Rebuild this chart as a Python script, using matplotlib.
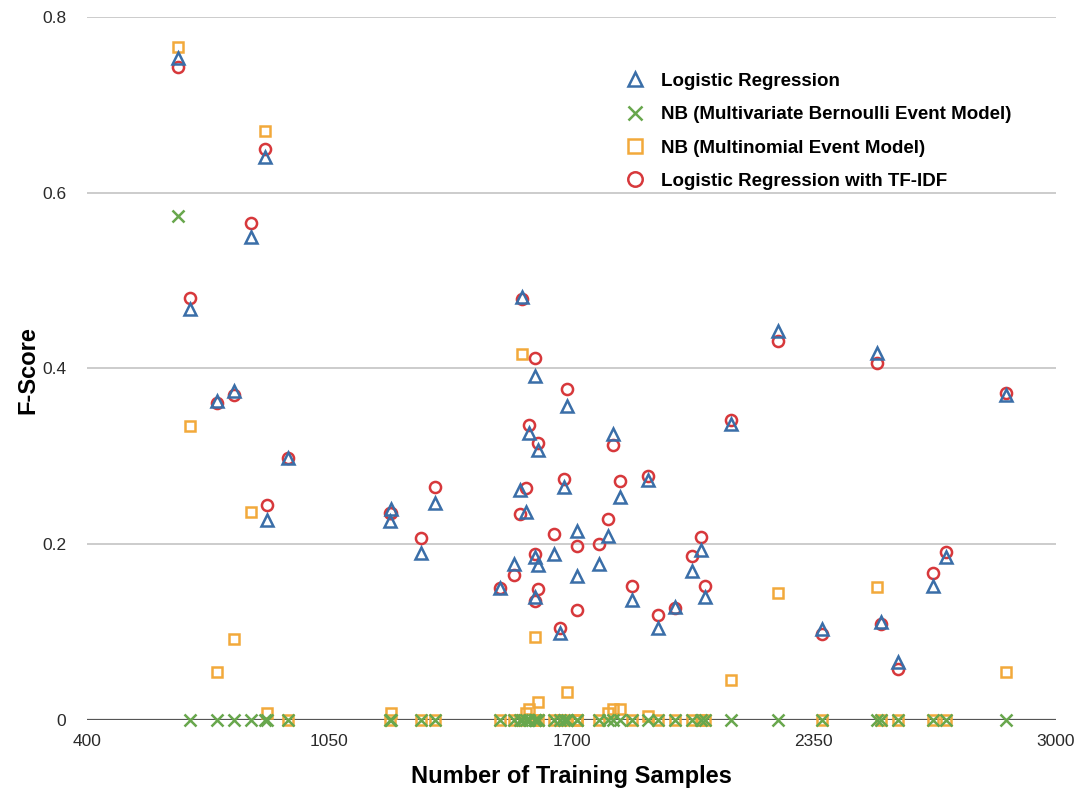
import matplotlib
matplotlib.use("Agg")
import matplotlib.pyplot as plt

# training set sizes (one entry per run) and the F-scores of each model
samples = [644, 676, 748, 794, 840, 877, 882, 939, 1212, 1217,
           1295, 1335, 1507, 1547, 1563, 1566, 1579, 1587, 1603, 1603,
           1603, 1609, 1611, 1654, 1670, 1681, 1687, 1716, 1716, 1775,
           1799, 1812, 1829, 1861, 1906, 1933, 1979, 2022, 2048, 2059,
           2129, 2255, 2373, 2520, 2531, 2576, 2670, 2705, 2866]

logreg = [0.753, 0.468, 0.363, 0.374, 0.550, 0.641, 0.228, 0.298, 0.226, 0.240,
          0.190, 0.247, 0.150, 0.177, 0.262, 0.481, 0.237, 0.327, 0.391, 0.186,
          0.140, 0.176, 0.307, 0.189, 0.099, 0.265, 0.357, 0.215, 0.164, 0.178,
          0.209, 0.325, 0.254, 0.136, 0.273, 0.105, 0.129, 0.169, 0.193, 0.140,
          0.337, 0.443, 0.104, 0.418, 0.111, 0.066, 0.152, 0.186, 0.370]

nb_bernoulli = [0.574, 0, 0, 0, 0, 0, 0, 0, 0, 0,
                0, 0, 0, 0, 0, 0, 0, 0, 0, 0,
                0, 0, 0, 0, 0, 0, 0, 0, 0, 0,
                0, 0, 0, 0, 0, 0, 0, 0, 0, 0,
                0, 0, 0, 0, 0, 0, 0, 0, 0]

nb_multinomial = [0.766, 0.335, 0.055, 0.092, 0.237, 0.670, 0.008, 0, 0, 0.008,
                  0, 0, 0, 0, 0, 0.416, 0.008, 0.013, 0, 0.095,
                  0, 0, 0.020, 0, 0, 0, 0.032, 0, 0, 0,
                  0.008, 0.013, 0.013, 0, 0.005, 0, 0, 0, 0, 0,
                  0.046, 0.145, 0, 0.151, 0, 0, 0, 0, 0.055]

logreg_tfidf = [0.743, 0.480, 0.361, 0.370, 0.565, 0.650, 0.245, 0.298, 0.235, 0.235,
                0.207, 0.265, 0.150, 0.165, 0.234, 0.479, 0.264, 0.336, 0.412, 0.189,
                0.135, 0.149, 0.315, 0.212, 0.105, 0.274, 0.377, 0.198, 0.125, 0.200,
                0.229, 0.313, 0.272, 0.152, 0.278, 0.120, 0.128, 0.187, 0.208, 0.152,
                0.341, 0.431, 0.098, 0.406, 0.109, 0.058, 0.167, 0.191, 0.372]

x_ticks = [400, 1050, 1700, 2350, 3000]
y_ticks = [0, 0.2, 0.4, 0.6, 0.8]
y_tick_labels = ["0", "0.2", "0.4", "0.6", "0.8"]

plt.rcParams["font.family"] = ["Liberation Sans", "DejaVu Sans"]

fig = plt.figure(figsize=(10.78, 7.90), dpi=100)
ax = fig.add_axes([0.0807, 0.0886, 0.8989, 0.8899])

blue = "#3a6ea8"
green = "#68a74d"
orange = "#f2a93b"
red = "#d7383b"

ms = 8
h_sq = ax.plot(samples, nb_multinomial, ls="none", marker="s", ms=ms - 0.5,
               mfc="none", mec=orange, mew=1.8, zorder=3, clip_on=False)[0]
h_circ = ax.plot(samples, logreg_tfidf, ls="none", marker="o", ms=ms,
                 mfc="none", mec=red, mew=1.8, zorder=4, clip_on=False)[0]
h_x = ax.plot(samples, nb_bernoulli, ls="none", marker="x", ms=ms,
              mec=green, mew=1.8, zorder=5, clip_on=False)[0]
h_tri = ax.plot(samples, logreg, ls="none", marker="^", ms=ms,
                mfc="none", mec=blue, mew=1.8, zorder=6, clip_on=False)[0]

ax.set_xlim(400, 3000)
ax.set_ylim(0, 0.8)
ax.set_xticks(x_ticks)
ax.set_xticklabels([str(t) for t in x_ticks])
ax.set_yticks(y_ticks)
ax.set_yticklabels(y_tick_labels)

for y in y_ticks[1:]:
    ax.axhline(y, color="#c4c4c4", lw=1.2, zorder=1)
ax.axhline(0, color="#555555", lw=1.6, zorder=2)

for s in ax.spines.values():
    s.set_visible(False)
ax.tick_params(axis="both", length=0, labelsize=12.5, colors="#2a2a2a")
ax.tick_params(axis="y", pad=15)
ax.tick_params(axis="x", pad=10)

ax.set_xlabel("Number of Training Samples", fontsize=17, fontweight="bold")
ax.xaxis.label.set_va("center")
ax.xaxis.set_label_coords(0.5, (720 - 776) / 703)
ax.set_ylabel("F-Score", fontsize=17, fontweight="bold")
ax.yaxis.label.set_va("center")
ax.yaxis.set_label_coords((28 - 87) / 969, (720 - 370) / 703)

leg = ax.legend([h_tri, h_x, h_sq, h_circ],
                ["Logistic Regression",
                 "NB (Multivariate Bernoulli Event Model)",
                 "NB (Multinomial Event Model)",
                 "Logistic Regression with TF-IDF"],
                loc="upper left", bbox_to_anchor=(0.554, 0.921),
                borderaxespad=0, borderpad=0, frameon=False,
                prop={"weight": "bold", "size": 13.5},
                handletextpad=0.8, labelspacing=0.87, handlelength=1.2,
                markerscale=1.3)

fig.savefig("out.png", dpi=100)
